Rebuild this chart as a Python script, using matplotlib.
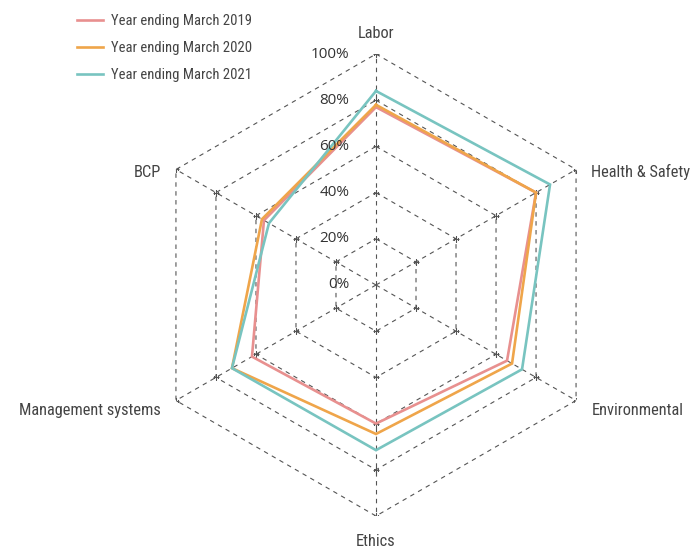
import numpy as np
import matplotlib
matplotlib.use("Agg")
import matplotlib.pyplot as plt
from matplotlib import font_manager as fm

categories = ["Labor", "Health & Safety", "Environmental", "Ethics", "Management systems", "BCP"]
series_names = ["Year ending March 2019", "Year ending March 2020", "Year ending March 2021"]
v2019 = [77, 80, 65.5, 60, 62, 56]
v2020 = [78, 80, 68, 64.5, 72, 57]
v2021 = [84, 87, 73, 71.5, 72, 53.5]
rticks = [0, 20, 40, 60, 80, 100]
rtick_labels = ["0%", "20%", "40%", "60%", "80%", "100%"]

colors = ["#E8908F", "#EFA54A", "#78C4C0"]

avail = {f.name for f in fm.fontManager.ttflist}
cond = "Roboto Condensed" if "Roboto Condensed" in avail else "Liberation Sans"
scale = 1.0 if cond == "Roboto Condensed" else 0.86
tick_font = "Open Sans"

W, H = 696, 549
fig = plt.figure(figsize=(W / 100, H / 100), dpi=100)
cx, cy, R = 376, 285, 231
ax = fig.add_axes([(cx - R) / W, (H - cy - R) / H, 2 * R / W, 2 * R / H], projection="polar")
ax.set_theta_offset(np.pi / 2)
ax.set_theta_direction(-1)
ax.set_ylim(0, 100)
ax.grid(False)
ax.spines["polar"].set_visible(False)
ax.set_xticks([])
ax.set_yticks([])
ax.patch.set_alpha(0)

n = len(categories)
angles = np.arange(n) * 2 * np.pi / n
closed = np.concatenate([angles, angles[:1]])

gcol = "#555555"
for r in rticks[1:]:
    ax.plot(closed, [r] * (n + 1), ls=(0, (4, 4)), color=gcol, lw=0.8, zorder=1)
    ax.plot(angles, [r] * n, ls="none", marker="+", ms=4, mew=0.8, color=gcol, zorder=1)
for a in angles:
    ax.plot([a, a], [0, 100], ls=(0, (4, 4)), color=gcol, lw=0.8, zorder=1)

for vals, name, c in zip([v2019, v2020, v2021], series_names, colors):
    ax.plot(closed, list(vals) + [vals[0]], color=c, lw=1.9, label=name, zorder=3,
            solid_joinstyle="miter")

for r, lab in zip(rticks, rtick_labels):
    ax.annotate(lab, xy=(0, r), xytext=(-19, 0), textcoords="offset points",
                ha="right", va="center", fontsize=11, color="#333333",
                family=[tick_font, "DejaVu Sans"])

offsets = [((0, 15), "center", "center"),
           ((11, -2), "left", "center"),
           ((11, -7), "left", "center"),
           ((0, -18), "center", "center"),
           ((-11, -7), "right", "center"),
           ((-11, -2), "right", "center")]
for a, lab, (off, ha, va) in zip(angles, categories, offsets):
    ax.annotate(lab, xy=(a, 100), xytext=off, textcoords="offset points",
                ha=ha, va=va, fontsize=11.8 * scale, color="#444444",
                family=[cond, "DejaVu Sans"], annotation_clip=False)

leg = fig.legend(loc="upper left", bbox_to_anchor=(77 / W, 1 - 14 / H), frameon=False,
                 prop={"family": [cond, "DejaVu Sans"], "size": 10.5 * scale},
                 handlelength=1.8, handletextpad=0.55, labelspacing=0.9,
                 borderpad=0, borderaxespad=0)
for t in leg.get_texts():
    t.set_color("#444444")

fig.savefig("out.png", dpi=100)
